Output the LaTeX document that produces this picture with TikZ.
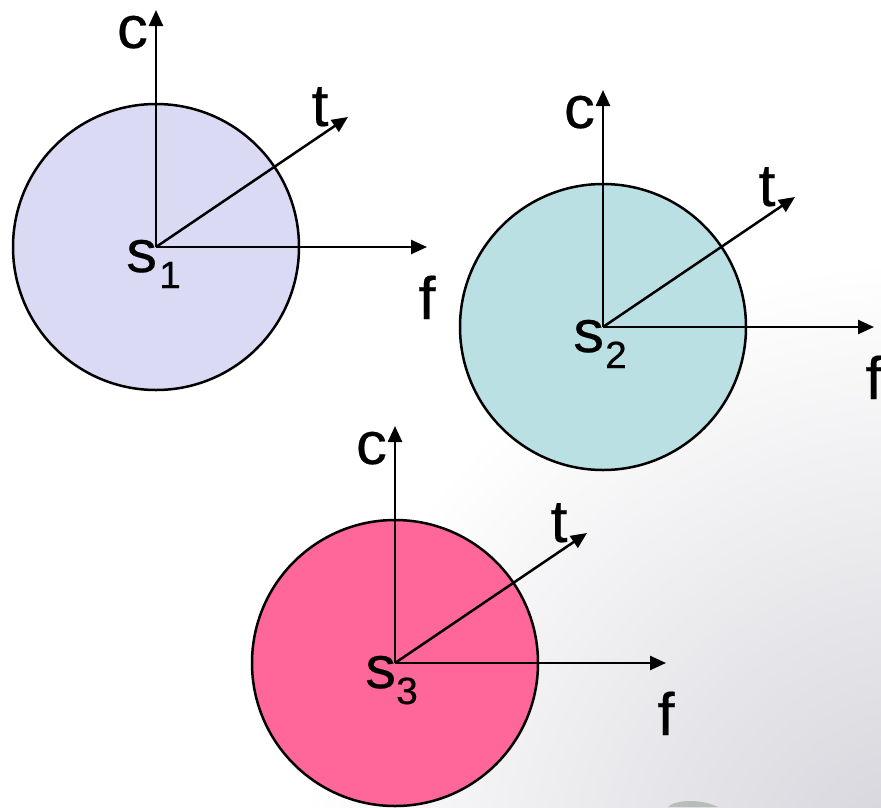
\documentclass[tikz,border=0pt]{standalone}
\usepackage{fontspec}
\setmainfont{Liberation Sans}
\newfontfamily\lblfam[FakeStretch=1.03,FakeBold=0.3]{Liberation Sans}
\usetikzlibrary{arrows.meta}
\definecolor{lav}{RGB}{218,218,244}
\definecolor{tealc}{RGB}{186,224,227}
\definecolor{pinkc}{RGB}{255,102,153}
\definecolor{bggray}{RGB}{210,210,217}
\definecolor{rockc}{RGB}{140,152,138}
\newcommand\lblfont{\lblfam\fontsize{60}{64}\selectfont}
\newcommand\subfont{\lblfam\fontsize{38}{40}\selectfont}
\begin{document}
\begin{tikzpicture}[x=1pt,y=-1pt,
  disc/.style={circle,draw=black,line width=2.5pt,minimum size=286pt,inner sep=0pt},
  axis/.style={line width=2.5pt,-{Triangle[length=16pt,width=14pt]}},
  lbl/.style={inner sep=0pt,anchor=base,font=\lblfont},
  slbl/.style={inner sep=0pt,anchor=base west,font=\lblfont}]
\useasboundingbox (0,0) rectangle (881,807);
\fill[white] (0,0) rectangle (881,807);
\begin{scope}
  \clip (0,0) rectangle (881,807);
  \shade[inner color=bggray, outer color=white] (920,880) circle (620pt);
  \fill[rockc, opacity=0.5] (668,807) .. controls (674,800) and (700,798) .. (718,807) -- cycle;
\end{scope}

% system 1
\coordinate (o1) at (156,247);
\node[disc,fill=lav] (cir1) at (o1) {};
\coordinate (c1) at (156,10);
\coordinate (f1) at (427,247);
\coordinate (t1) at (348,117);
\draw[axis] (o1) -- (c1);
\draw[axis] (o1) -- (f1);
\draw[axis] (o1) -- (t1);
\node[lbl] (lc1) at (132.5,48) {c};
\node[lbl] (lt1) at (320,126) {t};
\node[lbl] (lf1) at (427,319) {f};
\node[slbl] (ls1) at (126,272) {s\kern2pt\raisebox{-16pt}{\subfont 1}};

% system 2
\coordinate (o2) at (603,327);
\node[disc,fill=tealc] (cir2) at (o2) {};
\coordinate (c2) at (603,90);
\coordinate (f2) at (874,327);
\coordinate (t2) at (795,197);
\draw[axis] (o2) -- (c2);
\draw[axis] (o2) -- (f2);
\draw[axis] (o2) -- (t2);
\node[lbl] (lc2) at (579.5,128) {c};
\node[lbl] (lt2) at (767,206) {t};
\node[lbl] (lf2) at (874,399) {f};
\node[slbl] (ls2) at (573,352) {s\kern1pt\raisebox{-16pt}{\subfont 2}};

% system 3
\coordinate (o3) at (395,663);
\node[disc,fill=pinkc] (cir3) at (o3) {};
\coordinate (c3) at (395,426);
\coordinate (f3) at (666,663);
\coordinate (t3) at (587,533);
\draw[axis] (o3) -- (c3);
\draw[axis] (o3) -- (f3);
\draw[axis] (o3) -- (t3);
\node[lbl] (lc3) at (371.5,464) {c};
\node[lbl] (lt3) at (559,542) {t};
\node[lbl] (lf3) at (666,735) {f};
\node[slbl] (ls3) at (365,688) {s\kern0pt\raisebox{-16pt}{\subfont 3}};
\end{tikzpicture}
\end{document}
